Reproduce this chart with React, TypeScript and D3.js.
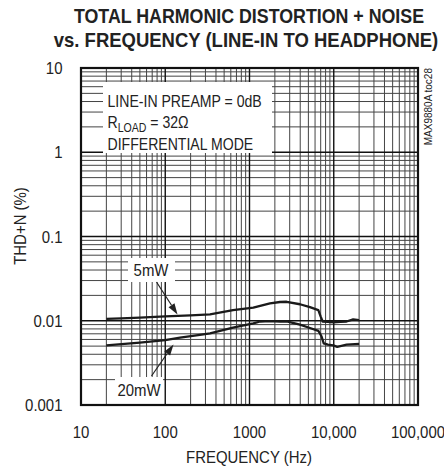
import React from "react";
import * as d3 from "d3";

const TITLE_LINES = ["TOTAL HARMONIC DISTORTION + NOISE", "vs. FREQUENCY (LINE-IN TO HEADPHONE)"];
const X_TICKS = [10, 100, 1000, 10000, 100000];
const X_TICK_LABELS = ["10", "100", "1000", "10,000", "100,000"];
const Y_TICKS = [0.001, 0.01, 0.1, 1, 10];
const Y_TICK_LABELS = ["0.001", "0.01", "0.1", "1", "10"];
const X_LABEL = "FREQUENCY (Hz)";
const Y_LABEL = "THD+N (%)";
const NOTE_LINES = ["LINE-IN PREAMP = 0dB", "DIFFERENTIAL MODE"];
const SERIES_NAMES = ["5mW", "20mW"];

const FREQ_5MW = [20, 30, 50, 100, 200, 340, 637, 1110, 1750, 2300, 2760, 3970, 5220, 6560, 7000, 7390, 8500, 9890, 12000, 14200, 17000, 20000];
const THD_5MW = [0.0105, 0.0107, 0.0109, 0.0113, 0.0116, 0.0119, 0.0134, 0.0143, 0.0161, 0.0167, 0.0168, 0.0157, 0.0145, 0.0134, 0.0112, 0.0098, 0.0097, 0.0096, 0.0097, 0.0098, 0.0104, 0.0102];

const FREQ_20MW = [20, 50, 100, 150, 258, 340, 637, 1110, 1340, 1750, 2300, 2760, 3970, 5220, 6560, 7170, 7600, 8500, 9890, 11000, 14200, 20000];
const THD_20MW = [0.0051, 0.0055, 0.0059, 0.0063, 0.0068, 0.0071, 0.0083, 0.0093, 0.0098, 0.0099, 0.0098, 0.0098, 0.009, 0.0082, 0.0076, 0.0065, 0.0054, 0.0052, 0.0051, 0.0049, 0.0052, 0.0053];

const W = 444;
const H = 468;
const L = 81, R = 418, T = 68, B = 405;
const FONT = "'Liberation Sans', Arial, Helvetica, sans-serif";
const SX = 0.88;

function Txt({ x, y, size, anchor = "start", rotate = 0, sx = SX, weight = "normal", children }: any) {
  return (
    <text
      transform={`translate(${x},${y}) rotate(${rotate}) scale(${sx},1)`}
      fontSize={size}
      fontFamily={FONT}
      fontWeight={weight}
      textAnchor={anchor}
      fill="#222"
    >
      {children}
    </text>
  );
}

function Arrow({ x1, y1, x2, y2 }: any) {
  const ang = Math.atan2(y2 - y1, x2 - x1);
  const len = 11, half = 3.5;
  const bx = x2 - len * Math.cos(ang), by = y2 - len * Math.sin(ang);
  const px = -Math.sin(ang) * half, py = Math.cos(ang) * half;
  return (
    <g>
      <line x1={x1} y1={y1} x2={bx} y2={by} stroke="#222" strokeWidth={1.2} />
      <path d={`M${x2},${y2}L${bx + px},${by + py}L${bx - px},${by - py}Z`} fill="#222" />
    </g>
  );
}

export default function App() {
  const x = d3.scaleLog().domain([10, 100000]).range([L, R]);
  const y = d3.scaleLog().domain([0.001, 10]).range([B, T]);

  const xMinor: number[] = [];
  for (let d = 10; d < 100000; d *= 10) for (let k = 2; k <= 9; k++) xMinor.push(d * k);
  const yMinor: number[] = [];
  for (let d = 0.001; d < 9; d *= 10) for (let k = 2; k <= 9; k++) yMinor.push(d * k);

  const line = d3.line<[number, number]>().x((d) => x(d[0])).y((d) => y(d[1]));
  const s1 = FREQ_5MW.map((f, i) => [f, THD_5MW[i]] as [number, number]);
  const s2 = FREQ_20MW.map((f, i) => [f, THD_20MW[i]] as [number, number]);

  return (
    <svg width={W} height={H} style={{ position: "absolute", left: 0, top: 0, background: "#fff" }}>
      <rect width={W} height={H} fill="#fff" />
      <Txt x={249} y={22.5} size={20} weight="bold" anchor="middle" sx={0.89}>{TITLE_LINES[0]}</Txt>
      <Txt x={246} y={46.7} size={20} weight="bold" anchor="middle" sx={0.925}>{TITLE_LINES[1]}</Txt>

      <g>
        {xMinor.map((v) => (
          <line key={"xm" + v} x1={x(v)} x2={x(v)} y1={T} y2={B} stroke="#444" strokeWidth={1} />
        ))}
        {yMinor.map((v, i) => (
          <line key={"ym" + i} x1={L} x2={R} y1={y(v)} y2={y(v)} stroke="#444" strokeWidth={1} />
        ))}
        {X_TICKS.map((v) => (
          <line key={"xM" + v} x1={x(v)} x2={x(v)} y1={T} y2={B} stroke="#111" strokeWidth={1.4} />
        ))}
        {Y_TICKS.map((v) => (
          <line key={"yM" + v} x1={L} x2={R} y1={y(v)} y2={y(v)} stroke="#111" strokeWidth={1.4} />
        ))}
      </g>

      <path d={line(s1) || ""} fill="none" stroke="#1a1a1a" strokeWidth={2.3} strokeLinejoin="round" />
      <path d={line(s2) || ""} fill="none" stroke="#1a1a1a" strokeWidth={2.3} strokeLinejoin="round" />

      <rect x={103} y={82} width={169} height={71} fill="#fff" />
      <Txt x={107.5} y={106.5} size={16}>{NOTE_LINES[0]}</Txt>
      <text transform={`translate(107.5,128.3) scale(${SX},1)`} fontSize={16} fontFamily={FONT} fill="#222">
        R<tspan fontSize={12} dy={3.5}>LOAD</tspan>
        <tspan dy={-3.5}> = 32Ω</tspan>
      </text>
      <Txt x={107.5} y={150} size={16}>{NOTE_LINES[1]}</Txt>

      <rect x={128} y={258} width={47} height={24} fill="#fff" />
      <Txt x={151} y={276} size={17} anchor="middle">{SERIES_NAMES[0]}</Txt>
      <Arrow x1={156.5} y1={282} x2={177.5} y2={314.5} />

      <rect x={115} y={377} width={48} height={27} fill="#fff" />
      <Txt x={139} y={395.5} size={17} anchor="middle">{SERIES_NAMES[1]}</Txt>
      <Arrow x1={151.5} y1={376} x2={173.5} y2={344.5} />

      <rect x={L} y={T} width={R - L} height={B - T} fill="none" stroke="#111" strokeWidth={2.2} />

      <text transform="translate(432,68) rotate(-90)" fontSize={10} fontFamily={FONT} textAnchor="end" fill="#222">
        MAX9880A toc28
      </text>

      {Y_TICKS.map((v, i) => (
        <Txt key={"yl" + v} x={62.5} y={y(v) + 6} size={17} anchor="end">{Y_TICK_LABELS[i]}</Txt>
      ))}
      {X_TICKS.map((v, i) => (
        <Txt key={"xl" + v} x={x(v)} y={437.5} size={17} anchor="middle">{X_TICK_LABELS[i]}</Txt>
      ))}
      <Txt x={249} y={463} size={17} anchor="middle">{X_LABEL}</Txt>
      <Txt x={26} y={226} size={17} anchor="middle" rotate={-90}>{Y_LABEL}</Txt>
    </svg>
  );
}
